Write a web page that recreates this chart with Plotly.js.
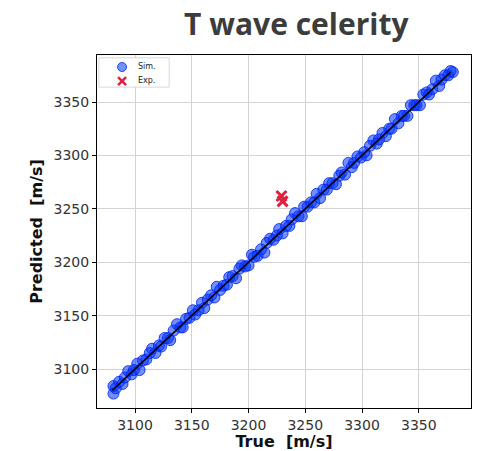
<!DOCTYPE html>
<html>
<head>
<meta charset="utf-8">
<script src="https://cdn.plot.ly/plotly-3.0.1.min.js"></script>
<style>html,body{margin:0;padding:0;background:#fff;}#chart{width:480px;height:451px;}</style>
</head>
<body>
<div id="chart"></div>
<script>
const simTrue = [3081,3081,3083,3086,3089,3091,3094,3097,3099,3102,3104,3107,3110,3113,3115,3118,3121,3123,3126,3129,3131,3134,3137,3140,3142,3145,3148,3151,3153,3156,3159,3161,3164,3167,3170,3172,3175,3178,3181,3183,3186,3189,3192,3194,3197,3200,3203,3205,3208,3211,3214,3216,3219,3222,3225,3227,3230,3233,3236,3238,3241,3244,3247,3249,3252,3255,3258,3260,3263,3266,3269,3271,3274,3277,3280,3282,3285,3288,3291,3293,3296,3299,3302,3304,3307,3310,3313,3315,3318,3321,3324,3326,3329,3332,3335,3337,3340,3343,3346,3348,3351,3354,3357,3359,3362,3365,3368,3370,3373,3376,3378,3380];
const simPred = [3077,3084,3082,3088,3086,3092,3098,3095,3099,3105,3099,3108,3109,3115,3119,3115,3122,3121,3129,3129,3127,3136,3142,3139,3139,3147,3148,3155,3151,3155,3162,3157,3165,3169,3167,3177,3174,3178,3179,3186,3187,3185,3194,3197,3196,3197,3207,3205,3206,3212,3209,3218,3222,3221,3225,3231,3227,3234,3234,3240,3246,3243,3243,3252,3252,3256,3256,3264,3260,3268,3268,3274,3274,3273,3281,3284,3282,3293,3289,3293,3299,3298,3303,3300,3309,3314,3311,3315,3321,3318,3325,3325,3334,3330,3337,3337,3337,3347,3347,3347,3347,3357,3359,3357,3362,3370,3365,3371,3375,3375,3379,3378];
const expTrue = [3229, 3230];
const expPred = [3262, 3257];
const lineX = [3080, 3378];
const lineY = [3080, 3378];
const xTicks = [3100, 3150, 3200, 3250, 3300, 3350];
const yTicks = [3100, 3150, 3200, 3250, 3300, 3350];
const legendNames = ['Sim.', 'Exp.'];

const simFill = 'rgba(0,50,255,0.55)';
const simEdge = 'rgba(0,40,240,0.85)';
const expColor = '#e0203c';

const data = [
  {x: simTrue, y: simPred, type: 'scatter', mode: 'markers', name: legendNames[0],
   marker: {size: 11, color: simFill, line: {color: simEdge, width: 1}}},
  {x: lineX, y: lineY, type: 'scatter', mode: 'lines',
   line: {color: '#000', width: 1.5}},
  {x: expTrue, y: expPred, type: 'scatter', mode: 'markers', name: legendNames[1],
   marker: {symbol: 'x-thin', size: 10, color: expColor, line: {color: expColor, width: 3}}}
];

const symX = 0.067, simY = 0.966, expY = 0.926;
const pix = (o) => Object.assign({xref: 'paper', yref: 'paper', xsizemode: 'pixel', ysizemode: 'pixel', layer: 'above'}, o);

const layout = {
  width: 480, height: 451,
  margin: {l: 97, r: 9, t: 55, b: 43},
  paper_bgcolor: '#fff', plot_bgcolor: '#fff',
  title: {text: '<b>T wave celerity</b>', x: 0.533, xref: 'paper', xanchor: 'center', y: 0.945, yanchor: 'middle',
          font: {family: 'Open Sans, Liberation Sans, sans-serif', size: 30, color: '#3c3c3c'}},
  showlegend: false,
  shapes: [
    {type: 'rect', xref: 'paper', yref: 'paper', x0: 0.005, x1: 0.193, y0: 0.909, y1: 0.992,
     fillcolor: '#fff', line: {color: '#d8d8d8', width: 1}, layer: 'above'},
    pix({type: 'circle', xanchor: symX, yanchor: simY, x0: -4.5, x1: 4.5, y0: -4.5, y1: 4.5,
         fillcolor: 'rgba(70,110,255,0.75)', line: {color: 'rgba(0,40,240,0.8)', width: 1}}),
    pix({type: 'line', xanchor: symX, yanchor: expY, x0: -4, x1: 4, y0: -4, y1: 4,
         line: {color: expColor, width: 2.5}}),
    pix({type: 'line', xanchor: symX, yanchor: expY, x0: -4, x1: 4, y0: 4, y1: -4,
         line: {color: expColor, width: 2.5}})
  ],
  annotations: [
    {xref: 'paper', yref: 'paper', x: 0.105, y: 0.968, text: legendNames[0], showarrow: false,
     font: {size: 8, color: '#222', family: 'DejaVu Sans'}, xanchor: 'left', yanchor: 'middle'},
    {xref: 'paper', yref: 'paper', x: 0.105, y: 0.928, text: legendNames[1], showarrow: false,
     font: {size: 8, color: '#222', family: 'DejaVu Sans'}, xanchor: 'left', yanchor: 'middle'}
  ],
  xaxis: {range: [3066.5, 3396], tickvals: xTicks, ticktext: xTicks.map(String),
          showgrid: true, gridcolor: '#d3d3d3', gridwidth: 1, zeroline: false,
          showline: true, linecolor: '#000', linewidth: 1, mirror: true,
          ticks: 'outside', ticklen: 4, tickcolor: '#000',
          tickfont: {family: 'DejaVu Sans', size: 14, color: '#333'},
          title: {text: '<b>True  [m/s]</b>', standoff: 2, font: {family: 'DejaVu Sans', size: 16, color: '#111'}}},
  yaxis: {range: [3063.5, 3394], tickvals: yTicks, ticktext: yTicks.map(String),
          showgrid: true, gridcolor: '#d3d3d3', gridwidth: 1, zeroline: false,
          showline: true, linecolor: '#000', linewidth: 1, mirror: true,
          ticks: 'outside', ticklen: 4, tickcolor: '#000',
          tickfont: {family: 'DejaVu Sans', size: 14, color: '#333'},
          title: {text: '<b>Predicted  [m/s]</b>', standoff: 6, font: {family: 'DejaVu Sans', size: 16, color: '#111'}}}
};

Plotly.newPlot('chart', data, layout, {displayModeBar: false, staticPlot: true});
</script>
</body>
</html>
